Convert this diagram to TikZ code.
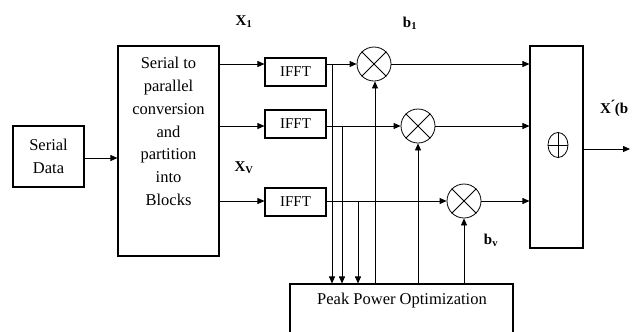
\documentclass[tikz,border=0pt]{standalone}
\usepackage{fontspec}
\setmainfont{Liberation Serif}
\usetikzlibrary{arrows.meta,shapes.geometric}
\begin{document}
\begin{tikzpicture}[x=1bp,y=-1bp,
  box/.style={draw,line width=1.1pt,inner sep=0pt},
  txt/.style={font=\fontsize{16.5bp}{22.8bp}\selectfont,align=center,inner sep=0pt},
  lbl/.style={font=\fontsize{15bp}{18bp}\selectfont\bfseries,inner sep=0pt},
  mult/.style={draw,line width=0.8pt,circle,minimum size=34bp,inner sep=0pt},
  arr/.style={line width=0.8pt,-{Triangle[length=7bp,width=6bp]}},
  ln/.style={line width=0.8pt}]
\useasboundingbox (0,0) rectangle (632,331);
\clip (0,0) rectangle (632,331);
% Serial data
\node[box,minimum width=71bp,minimum height=61bp,txt] (sd) at (48.5,156.5) {Serial\\Data};
% serial to parallel
\node[box,minimum width=101bp,minimum height=210bp] (sp) at (168.5,151) {};
\node[txt] (sptext) at (168.5,131.5) {Serial to\\parallel\\conversion\\and\\partition\\into\\Blocks};
% IFFT boxes
\node[box,minimum width=61bp,minimum height=28bp,font=\fontsize{15bp}{18bp}\selectfont] (f1) at (295.5,72) {IFFT};
\node[box,minimum width=61bp,minimum height=28bp,font=\fontsize{15bp}{18bp}\selectfont] (f2) at (295.5,124) {IFFT};
\node[box,minimum width=61bp,minimum height=28bp,font=\fontsize{15bp}{18bp}\selectfont] (f3) at (295.5,202) {IFFT};
% multipliers
\node[mult] (m1) at (374,64) {};
\node[mult] (m2) at (418,126) {};
\node[mult] (m3) at (464,201) {};
\foreach \m in {m1,m2,m3}{
  \draw[ln] (\m.45) -- (\m.225) (\m.135) -- (\m.-45);
}
% combiner
\node[box,minimum width=53bp,minimum height=202bp] (cb) at (556.5,147) {};
\node[draw,ellipse,line width=0.8pt,minimum width=20bp,minimum height=25bp,inner sep=0pt] (plus) at (558,145) {};
\draw[ln] (plus.north) -- (plus.south) (plus.west) -- (plus.east);
% peak power optimization
\node[box,minimum width=223bp,minimum height=61bp] (pp) at (401.5,314.5) {};
\node[txt] (pptext) at (402,301) {Peak Power Optimization};
% coordinates
\coordinate (out) at (630,149);
\coordinate (t1) at (332,64);
\coordinate (t2) at (342,126);
\coordinate (t3) at (358,201);
% connectors
\draw[arr] (sd.east |- 0,158) -- (sp.west |- 0,158);
\draw[arr] (sp.east |- 0,64) -- (f1.west |- 0,64);
\draw[arr] (sp.east |- 0,126) -- (f2.west |- 0,126);
\draw[arr] (sp.east |- 0,201) -- (f3.west |- 0,201);
\draw[arr] (f1.east |- m1) -- (m1);
\draw[arr] (f2.east |- m2) -- (m2);
\draw[arr] (f3.east |- m3) -- (m3);
\draw[arr] (m1) -- (cb.west |- m1);
\draw[arr] (m2) -- (cb.west |- m2);
\draw[arr] (m3) -- (cb.west |- m3);
\draw[arr] (cb.east |- out) -- (out);
\draw[arr] (t1) -- (t1 |- pp.north);
\draw[arr] (t2) -- (t2 |- pp.north);
\draw[arr] (t3) -- (t3 |- pp.north);
\draw[arr] (pp.north -| 375,0) -- (m1.south -| 375,0);
\draw[arr] (pp.north -| m2) -- (m2.south);
\draw[arr] (pp.north -| m3) -- (m3.south);
% labels
\node[lbl] (x1) at (244,22) {X\textsubscript{1}};
\node[lbl] (xv) at (244,168) {X\textsubscript{V}};
\node[lbl] (b1) at (410,23) {b\textsubscript{1}};
\node[lbl] (bv) at (491,240) {b\textsubscript{v}};
\node[lbl,anchor=west] (xo) at (600,108) {X\'{}(b};
\end{tikzpicture}
\end{document}
